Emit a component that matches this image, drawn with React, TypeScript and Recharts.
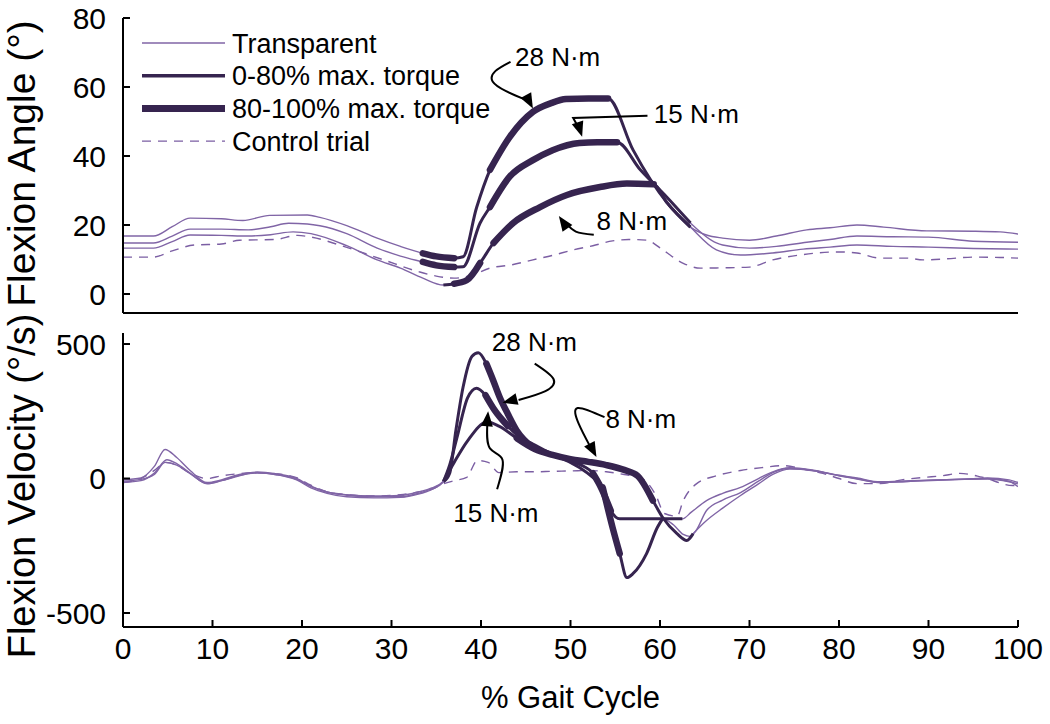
import React from 'react';
import { LineChart, Line, XAxis, YAxis, ReferenceDot, Legend } from 'recharts';

type Pt = [number, number];

const gaitTicks = [0, 10, 20, 30, 40, 50, 60, 70, 80, 90, 100];
const angleTicks = [0, 20, 40, 60, 80];
const velocityTicks = [-500, 0, 500];

// flexion angle (deg) against % gait cycle, one trace per torque level
const angle28: Pt[] = [[0, 16.8], [3.4, 16.8], [5.5, 19.5], [7.5, 22], [11, 21.8], [13.4, 21.3], [16.4, 22.8], [20.6, 22.9], [22, 22.2], [25, 19.8], [28.4, 16.2], [31, 13.8], [33.5, 11.8], [35, 10.9], [37, 10.4], [38, 10.8], [39.5, 25], [41, 36], [43.2, 45.5], [45.8, 52.8], [47.9, 55.4], [49.5, 56.5], [52, 56.7], [54.2, 56.7], [57, 41.7], [60.8, 26.4], [63.4, 19.4], [65.2, 17.1], [67, 16.2], [70, 15.6], [73, 16.8], [76.4, 18.6], [79, 19.2], [82, 20], [85, 19.4], [89.8, 18.3], [95, 18.2], [98, 18], [100, 17.4]];
const angle15: Pt[] = [[0, 14.8], [3.4, 14.8], [5.5, 16.8], [7.5, 18.8], [11, 18.8], [14, 18.6], [16.5, 19.5], [18.5, 20.5], [20.6, 20.3], [22, 19.8], [25, 17.5], [28.4, 13.3], [31, 11], [33.5, 9.3], [35, 8.3], [37, 7.8], [38, 7.9], [39.9, 20.6], [41, 25.2], [43.2, 34], [45.8, 38.8], [48, 41.7], [51, 43.8], [53, 44], [55.2, 44], [57.8, 36], [60.8, 28], [63.4, 20.6], [66.3, 14.8], [67, 14.2], [70, 13.3], [73, 13.8], [76.4, 15], [79, 15.8], [82, 16.8], [86, 16.6], [90, 16.5], [95, 15.3], [100, 15]];
const angle8: Pt[] = [[0, 13.3], [3.4, 13.3], [5.5, 15.2], [7.5, 17.1], [11, 17], [14, 16.8], [16.5, 17.2], [19, 18], [21, 17.5], [25, 14], [28.4, 9.9], [31, 7.5], [33.5, 4.6], [35.8, 2.6], [37, 3], [38.4, 4], [39.9, 9], [41.4, 14.8], [43.6, 20.6], [46.6, 25.2], [49.6, 28.7], [53.3, 31], [56.3, 32], [59.3, 31.8], [60.8, 26.4], [63.4, 19.4], [66.3, 12.8], [69, 11.3], [72.6, 11.9], [76, 13], [79, 13.6], [82, 14.2], [86, 13.8], [90, 13.6], [95, 13.2], [100, 13]];
const angleCtrl: Pt[] = [[0, 10.7], [3.4, 10.7], [5.5, 12.5], [8, 14.2], [11, 14.5], [13, 15.6], [17, 15.8], [19.5, 17], [21, 16.5], [25, 13.5], [29, 10], [33, 6.5], [35, 5.2], [37, 4.6], [39, 5.5], [41, 7.5], [43.5, 8.5], [45.8, 9.9], [48, 11.2], [50.3, 12.8], [52.5, 14], [54.7, 15.4], [56.5, 15.8], [58.5, 15.6], [60.3, 12.8], [62.6, 8.9], [64.5, 7.5], [67, 7.6], [70, 7.8], [72.6, 9.9], [75.6, 11.3], [80, 12.2], [82, 11.9], [84.6, 10.4], [87.6, 10.4], [89.4, 9.9], [92, 10.2], [95, 10.7], [98, 10.6], [100, 10.4]];

// flexion velocity (deg/s)
const vel28: Pt[] = [[0, -5], [2, 2], [3.5, 45], [4.7, 108], [6, 78], [7.5, 30], [9.4, -15], [11, -5], [13, 15], [15, 24], [17, 18], [19.4, 0], [21, -28], [22.8, -50], [25, -62], [28, -68], [31, -68], [33, -55], [34.5, -38], [35.8, -12], [36.5, 20], [37.2, 180], [38, 340], [39, 455], [39.7, 468], [40.6, 427], [41.3, 370], [42.1, 301], [43, 240], [44, 178], [45.8, 115], [47, 95], [48.8, 78], [51, 41], [52.5, 4], [53.6, -33], [54.7, -182], [55.5, -279], [56.3, -368], [57, -353], [58.5, -279], [59.7, -182], [60.3, -149], [61.5, -172], [62.6, -208], [63.3, -215], [64, -195], [65.2, -119], [67, -80], [69, -52], [71, -10], [72.6, 22], [74.5, 38], [77, 30], [80, 11], [82, 0], [84.6, -15], [88, -10], [91, -7], [94, -3], [96.6, 0], [99, -10], [100, -30]];
const vel15: Pt[] = [[0, -15], [2, -8], [3.5, 20], [4.9, 70], [6, 55], [7.5, 20], [9.4, -20], [11, -8], [13, 12], [15, 20], [17, 15], [19.4, -5], [21, -35], [22.8, -55], [25, -68], [28, -72], [31, -70], [33, -58], [34.5, -40], [35.8, -12], [36.5, 50], [37.3, 150], [38.5, 300], [39.5, 336], [40.5, 310], [41.5, 255], [43, 195], [44.5, 150], [45.8, 128], [48, 90], [50, 65], [51.5, 45], [52.5, 20], [53.5, -40], [54.5, -120], [55.5, -150], [58, -150], [61, -150], [62.5, -150], [63.5, -125], [65.2, -82], [67, -55], [69, -33], [71, 0], [72.6, 25], [74.5, 40], [77, 32], [80, 12], [82, 2], [84.6, -12], [88, -8], [91, -5], [94, -2], [96.6, 2], [99, -5], [100, -15]];
const vel8: Pt[] = [[0, -10], [2, -3], [3.5, 15], [4.7, 60], [6, 50], [7.5, 18], [9.4, -18], [11, -8], [13, 10], [15, 22], [17, 15], [19.4, -3], [21, -30], [22.8, -50], [25, -60], [28, -65], [31, -63], [33, -50], [34.5, -35], [35.8, -10], [37, 60], [38.5, 140], [40.7, 210], [42, 195], [44, 150], [46, 110], [48, 88], [50, 72], [52, 62], [54, 50], [56, 32], [57.5, 10], [59.2, -82], [60.3, -145], [61.9, -205], [63, -230], [63.7, -205], [65.2, -156], [67, -110], [69, -63], [71, -20], [72.6, 15], [74.5, 35], [77, 30], [80, 10], [82, -2], [84.6, -15], [88, -10], [91, -5], [94, -3], [96.6, -2], [99, -12], [100, -20]];
const velCtrl: Pt[] = [[0, -15], [2, 0], [3.5, 30], [4.8, 60], [6, 50], [7.5, 20], [9.4, 0], [11, 10], [13, 18], [15, 22], [17, 18], [19.4, 3], [21, -25], [22.8, -50], [25, -60], [28, -65], [31, -60], [33, -50], [34.5, -40], [35.8, -20], [37, -8], [38.4, 4], [39.6, 67], [40.8, 60], [42, 22], [44, 25], [46, 25], [48, 27], [50, 28], [52, 30], [54, 25], [56, 15], [58, 0], [59.5, -60], [60.5, -130], [61.9, -140], [62.6, -82], [64.1, -19], [66.4, 11], [69, 30], [71.5, 41], [73.7, 48], [76, 35], [78.2, 19], [80, 0], [82, -19], [84.6, -19], [87, -5], [89.4, 4], [91.5, 10], [93.5, 19], [96, 5], [99.4, -26], [100, -26]];

// % gait ranges where the device applied torque (0-80%) and near-peak torque (80-100%)
const angleSeries = [
  { key: 'a28', pts: angle28, torque: [33.5, 63.4], peak: [[33.5, 37], [41, 54.2]] },
  { key: 'a15', pts: angle15, torque: [33.5, 63.4], peak: [[33.5, 37], [41, 55.2]] },
  { key: 'a8', pts: angle8, torque: [35.8, 63.4], peak: [[37, 39.9], [41.4, 59.3]] },
];
const velSeries = [
  { key: 'v28', pts: vel28, torque: [35.8, 60.3], peak: [[40.6, 45.8], [53.6, 55.5]] },
  { key: 'v15', pts: vel15, torque: [35.8, 62.5], peak: [[40.5, 43], [52.5, 54.5]] },
  { key: 'v8', pts: vel8, torque: [35.8, 63.7], peak: [[44, 59.2]] },
];

// callouts: label anchor, leader path, arrow tip and its heading (deg)
const angleNotes = [
  { text: '28 N·m', at: [43.8, 68.7], path: [[43.3, 67.3], [41.6, 64.6], [41.3, 61.6], [42.8, 58.8], [44.9, 56.4]], tip: [45.8, 53.8], dir: 62, curve: 'natural' },
  { text: '15 N·m', at: [59.3, 52.3], path: [[58.6, 51.7], [50.3, 51], [50.9, 48.2]], tip: [51.3, 45.6], dir: 72, curve: 'linear' },
  { text: '8 N·m', at: [52.9, 21.4], path: [[52.6, 17.2], [50.6, 18.1], [49.5, 20.6]], tip: [48.7, 22.6], dir: -125, curve: 'natural' },
];
const velNotes = [
  { text: '28 N·m', at: [41.2, 509], path: [[46, 427], [48.1, 370], [47.2, 325], [44.2, 292]], tip: [42.4, 282], dir: 166, curve: 'natural' },
  { text: '15 N·m', at: [36.9, -126], path: [[41.8, -40], [42.4, 70], [41, 112], [40.7, 200]], tip: [40.8, 250], dir: -85, curve: 'natural' },
  { text: '8 N·m', at: [53.9, 223], path: [[53.8, 228], [50.8, 262], [50.9, 205], [52.1, 125]], tip: [52.9, 80], dir: 62, curve: 'natural' },
];

const legendItems = [
  { label: 'Transparent', kind: 'thin' },
  { label: '0-80% max. torque', kind: 'mid' },
  { label: '80-100% max. torque', kind: 'thick' },
  { label: 'Control trial', kind: 'dash' },
];

const FONT = '"Liberation Sans", Arial, Helvetica, sans-serif';
const THIN = '#8065a6';
const DARK = '#36244f';
const DASH = '#7b5ea3';

const rows = (pts: number[][]) => pts.map(([x, y]) => ({ x, y }));
const cut = (pts: Pt[], a: number, b: number) => pts.filter(([x]) => x >= a && x <= b);

const Txt = ({ x, y, size, anchor = 'start', rotate = 0, top = false, children }: any) => (
  <text
    transform={`translate(${x},${y})${rotate ? ` rotate(${rotate})` : ''}`}
    dy={top ? '0.72em' : '0.36em'}
    fontSize={size}
    fontFamily={FONT}
    textAnchor={anchor}
    fill="#000"
  >
    {children}
  </text>
);

const XTick = ({ x, y, payload }: any) => <Txt x={x} y={y} size={30} anchor="middle" top>{payload.value}</Txt>;
const YTick = ({ x, y, payload }: any) => <Txt x={x} y={y} size={30} anchor="end">{payload.value}</Txt>;

const Arrowhead = ({ cx, cy, dir }: any) => (
  <polygon points="0,0 -15,-6 -15,6" transform={`translate(${cx},${cy}) rotate(${dir})`} fill="#000" />
);

const LegendBox = () => (
  <svg width={380} height={140}>
    {legendItems.map((it, i) => {
      const y = 19 + i * 32.7;
      const w = it.kind === 'thick' ? 7 : it.kind === 'mid' ? 3.5 : 1.4;
      return (
        <g key={it.label}>
          <line x1={4} x2={87} y1={y} y2={y} stroke={it.kind === 'thin' ? THIN : it.kind === 'dash' ? DASH : DARK} strokeWidth={w} strokeDasharray={it.kind === 'dash' ? '9 7' : undefined} />
          <Txt x={94} y={y} size={27}>{it.label}</Txt>
        </g>
      );
    })}
  </svg>
);

const renderSeries = (list: typeof angleSeries) =>
  list.map((s) => [
    <Line key={`${s.key}-t`} data={rows(s.pts)} dataKey="y" type="monotone" stroke={THIN} strokeWidth={1.4} dot={false} activeDot={false} isAnimationActive={false} />,
    <Line key={`${s.key}-m`} data={rows(cut(s.pts, s.torque[0], s.torque[1]))} dataKey="y" type="monotone" stroke={DARK} strokeWidth={3} strokeLinejoin="round" dot={false} activeDot={false} isAnimationActive={false} />,
    ...s.peak.map(([a, b], i) => (
      <Line key={`${s.key}-p${i}`} data={rows(cut(s.pts, a, b))} dataKey="y" type="monotone" stroke={DARK} strokeWidth={6.5} strokeLinejoin="round" strokeLinecap="round" dot={false} activeDot={false} isAnimationActive={false} />
    )),
  ]);

const renderNotes = (notes: typeof angleNotes, id: string) =>
  notes.map((n, i) => [
    <Line key={`${id}-l${i}`} data={rows(n.path)} dataKey="y" type={n.curve as any} stroke="#000" strokeWidth={2} dot={false} activeDot={false} isAnimationActive={false} />,
    <ReferenceDot key={`${id}-h${i}`} x={n.tip[0]} y={n.tip[1]} r={0} ifOverflow="visible" shape={(p: any) => <Arrowhead cx={p.cx} cy={p.cy} dir={n.dir} />} />,
    <ReferenceDot key={`${id}-t${i}`} x={n.at[0]} y={n.at[1]} r={0} ifOverflow="visible" shape={(p: any) => <Txt x={p.cx} y={p.cy} size={26}>{n.text}</Txt>} />,
  ]);

const axisLine = { stroke: '#000', strokeWidth: 2 };

export default function App() {
  return (
    <div style={{ position: 'absolute', left: 0, top: 0, width: 1050, height: 724, background: '#fff' }}>
      <div style={{ position: 'absolute', left: 0, top: 0 }}>
        <LineChart width={1050} height={320} margin={{ top: 18, right: 32, bottom: 0, left: 63 }}>
          <XAxis type="number" dataKey="x" domain={[0, 100]} ticks={gaitTicks} interval={0} allowDataOverflow height={7} tick={false} tickSize={-7} axisLine={axisLine} tickLine={axisLine} />
          <YAxis type="number" domain={[-5.5, 80]} ticks={angleTicks} interval={0} allowDataOverflow width={60} tickSize={-7} tickMargin={24} tick={<YTick />} axisLine={axisLine} tickLine={axisLine}
            label={(p: any) => <Txt x={p.viewBox.x - 42} y={p.viewBox.y + p.viewBox.height / 2 - 2} size={39} anchor="middle" rotate={-90}>Flexion Angle (°)</Txt>} />
          <Line data={rows(angleCtrl)} dataKey="y" type="monotone" stroke={DASH} strokeWidth={1.4} strokeDasharray="9 7" dot={false} activeDot={false} isAnimationActive={false} />
          {renderSeries(angleSeries)}
          {renderNotes(angleNotes, 'an')}
          <Legend layout="vertical" align="center" verticalAlign="middle" wrapperStyle={{ left: 138, top: 24, width: 380, height: 140 }} content={() => <LegendBox />} />
        </LineChart>
      </div>
      <div style={{ position: 'absolute', left: 0, top: 300 }}>
        <LineChart width={1050} height={424} margin={{ top: 33, right: 32, bottom: 0, left: 63 }}>
          <XAxis type="number" dataKey="x" domain={[0, 100]} ticks={gaitTicks} interval={0} allowDataOverflow height={97} tickSize={-7} tickMargin={17} tick={<XTick />} axisLine={axisLine} tickLine={axisLine}
            label={(p: any) => <Txt x={p.viewBox.x + p.viewBox.width / 2} y={p.viewBox.y + 70} size={31} anchor="middle">% Gait Cycle</Txt>} />
          <YAxis type="number" domain={[-552, 541]} ticks={velocityTicks} interval={0} allowDataOverflow width={60} tickSize={-7} tickMargin={24} tick={<YTick />} axisLine={axisLine} tickLine={axisLine}
            label={(p: any) => <Txt x={p.viewBox.x - 42} y={p.viewBox.y + p.viewBox.height / 2 + 6} size={38} anchor="middle" rotate={-90}>Flexion Velocity (°/s)</Txt>} />
          <Line data={rows(velCtrl)} dataKey="y" type="monotone" stroke={DASH} strokeWidth={1.4} strokeDasharray="9 7" dot={false} activeDot={false} isAnimationActive={false} />
          {renderSeries(velSeries)}
          {renderNotes(velNotes, 'vn')}
        </LineChart>
      </div>
    </div>
  );
}
